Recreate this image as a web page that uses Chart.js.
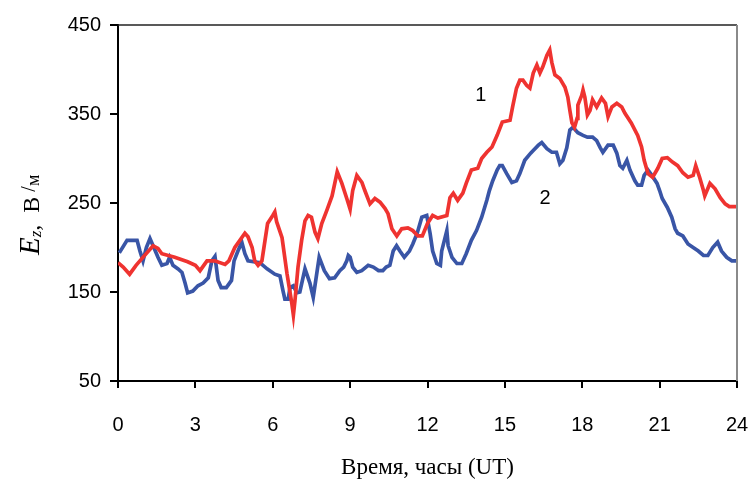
<!DOCTYPE html>
<html>
<head>
<meta charset="utf-8">
<script src="https://cdn.jsdelivr.net/npm/chart.js@4/dist/chart.umd.min.js"></script>
<style>
  html, body { margin: 0; padding: 0; background: #fff; }
  #wrap { width: 749px; height: 486px; position: relative; }
</style>
</head>
<body>
<div id="wrap"><canvas id="ez-chart"></canvas></div>
<script>
// curve 1 (red)
const hours1 = [0, 0.2, 0.45, 0.7, 1.0, 1.36, 1.55, 1.7, 2.2, 2.7, 3.0, 3.18, 3.45, 3.75, 4.15, 4.3, 4.53, 4.92, 5.04, 5.2,
  5.3, 5.43, 5.58, 5.7, 5.8, 6.0, 6.08, 6.15, 6.36, 6.55, 6.74, 6.8, 6.86, 6.98, 7.12, 7.25, 7.37, 7.5, 7.64, 7.75,
  7.9, 8.1, 8.3, 8.5, 8.68, 8.87, 9.0, 9.1, 9.26, 9.46, 9.57, 9.77, 9.96, 10.16, 10.35, 10.47, 10.62, 10.81, 11.0, 11.24, 11.43,
  11.63, 11.8, 12.0, 12.2, 12.4, 12.75, 12.87, 13.0, 13.17, 13.37, 13.5, 13.7, 13.95, 14.1, 14.3, 14.5, 14.7, 14.9, 15.2, 15.3,
  15.45, 15.58, 15.7, 15.85, 15.97, 16.1, 16.24, 16.36, 16.47, 16.63, 16.74, 16.82, 16.94, 17.13, 17.33, 17.44, 17.52, 17.6, 17.7, 17.8,
  17.83, 17.98, 18.03, 18.1, 18.2, 18.3, 18.4, 18.56, 18.75, 18.9, 19.0, 19.15, 19.34, 19.53, 19.65, 19.9, 20.15, 20.3, 20.4, 20.55,
  20.73, 20.93, 21.1, 21.3, 21.5, 21.7, 21.9, 22.1, 22.3, 22.4, 22.55, 22.7, 22.75, 22.95, 23.15, 23.35, 23.54, 23.7, 24];
const values1 = [183, 178, 170, 180, 190, 202, 199, 193, 189, 184, 180, 174, 185, 185, 181, 185, 200, 216, 212, 200,
  185, 180, 185, 208, 227, 236, 240, 229, 211, 171, 137, 124, 140, 178, 208, 230, 236, 234, 217, 210,
  227, 242, 258, 285, 272, 255, 243, 264, 281, 273, 264, 249, 255, 251, 244, 238, 221, 213, 221, 222, 219,
  213, 213, 227, 236, 233, 236, 256, 261, 253, 261, 272, 287, 289, 300, 307, 313, 326, 341, 343, 358,
  379, 388, 388, 382, 379, 396, 405, 396, 403, 416, 422, 408, 394, 390, 380, 369, 354, 340, 335, 345,
  360, 371, 377, 369, 349, 354, 366, 358, 368, 362, 347, 358, 362, 358, 351, 340, 326, 313, 298, 283,
  279, 289, 300, 301, 296, 292, 284, 279, 281, 292, 279, 264, 258, 272, 266, 256, 249, 246, 246];

// curve 2 (blue)
const hours2 = [0.05, 0.35, 0.74, 0.85, 0.97, 1.1, 1.24, 1.36, 1.55, 1.7, 1.9, 2.0, 2.13, 2.33, 2.48, 2.6, 2.7, 2.9, 3.1, 3.3,
  3.5, 3.64, 3.76, 3.88, 4.0, 4.2, 4.4, 4.5, 4.65, 4.8, 4.92, 5.04, 5.5, 5.78, 6.08, 6.28, 6.4, 6.47, 6.6,
  6.67, 6.8, 6.93, 7.05, 7.25, 7.44, 7.57, 7.8, 8.0, 8.2, 8.4, 8.6, 8.75, 8.87, 8.93, 9.0, 9.1, 9.26, 9.45, 9.7,
  9.9, 10.1, 10.27, 10.4, 10.54, 10.67, 10.8, 10.93, 11.1, 11.3, 11.43, 11.6, 11.78, 11.97, 12.1, 12.2, 12.36, 12.5, 12.55, 12.75,
  12.8, 12.95, 13.14, 13.33, 13.5, 13.7, 13.9, 14.1, 14.3, 14.4, 14.53, 14.7, 14.8, 14.9, 15.07, 15.27, 15.45, 15.58, 15.77, 16.0,
  16.1, 16.3, 16.43, 16.63, 16.82, 17.0, 17.13, 17.25, 17.4, 17.52, 17.64, 17.83, 18.03, 18.2, 18.4, 18.56, 18.7, 18.8, 19.0, 19.2,
  19.34, 19.46, 19.57, 19.73, 19.85, 20.04, 20.15, 20.3, 20.4, 20.55, 20.7, 20.9, 21.0, 21.1, 21.3, 21.47, 21.6, 21.7, 21.9, 22.1,
  22.3, 22.5, 22.7, 22.87, 23.06, 23.25, 23.4, 23.6, 23.8, 24];
const values2 = [194, 208, 208, 196, 185, 200, 210, 202, 189, 180, 182, 189, 180, 176, 172, 160, 149, 151, 157, 160,
  166, 185, 190, 163, 155, 155, 163, 185, 196, 206, 193, 185, 183, 176, 170, 168, 151, 142, 142,
  155, 157, 149, 150, 176, 160, 144, 189, 174, 165, 166, 174, 178, 185, 191, 189, 178, 172, 174, 180,
  178, 174, 174, 178, 180, 196, 202, 196, 189, 196, 204, 216, 234, 236, 216, 196, 182, 180, 196, 219,
  202, 189, 182, 182, 193, 208, 219, 234, 253, 264, 275, 287, 292, 292, 283, 273, 275, 283, 298, 306,
  309, 315, 318, 311, 307, 307, 294, 298, 312, 332, 335, 329, 326, 324, 324, 320, 312, 307, 315, 315,
  306, 292, 289, 298, 287, 275, 270, 270, 281, 287, 281, 272, 264, 255, 245, 234, 221, 216, 213, 204,
  200, 196, 191, 191, 200, 206, 196, 189, 185, 185];

const xTicks = [0, 3, 6, 9, 12, 15, 18, 21, 24];
const yTicks = [50, 150, 250, 350, 450];

// curve numbers placed next to the lines
const curveLabels = ['1', '2'];
const curveLabelHours = [14.07, 16.56];
const curveLabelValues = [371, 255];

const toPoints = (xs, ys) => xs.map((x, i) => ({ x: x, y: ys[i] }));

// top/right frame, curve numbers and the mixed-font axis titles
const decorPlugin = {
    id: 'decor',
    afterDraw(chart) {
        const ctx = chart.ctx;
        const area = chart.chartArea;
        const xs = chart.scales.x;
        const ys = chart.scales.y;
        ctx.save();

        ctx.strokeStyle = '#222';
        ctx.lineWidth = 1.5;
        ctx.beginPath();
        ctx.moveTo(area.left, area.top);
        ctx.lineTo(area.right, area.top);
        ctx.stroke();
        ctx.strokeStyle = '#8a8a8a';
        ctx.lineWidth = 2;
        ctx.beginPath();
        ctx.moveTo(area.right, area.top);
        ctx.lineTo(area.right, area.bottom);
        ctx.stroke();

        ctx.fillStyle = '#000';
        ctx.font = '20px "Liberation Sans", Arial, sans-serif';
        ctx.textAlign = 'center';
        ctx.textBaseline = 'middle';
        curveLabels.forEach((t, i) => {
            ctx.fillText(t, xs.getPixelForValue(curveLabelHours[i]), ys.getPixelForValue(curveLabelValues[i]));
        });

        // x title
        ctx.font = '23px "Liberation Serif", "Times New Roman", serif';
        ctx.textBaseline = 'alphabetic';
        ctx.fillText('Время, часы (UT)', (area.left + area.right) / 2, 474);

        // y title, drawn piece by piece along a rotated baseline
        ctx.translate(39, 255);
        ctx.rotate(-Math.PI / 2);
        ctx.textAlign = 'left';
        const parts = [
            { t: 'E', f: 'italic 29px "Liberation Serif", serif', dy: 0 },
            { t: 'z', f: 'italic 17px "Liberation Serif", serif', dy: 2 },
            { t: ',  ', f: '24px "Liberation Serif", serif', dy: 0 },
            { t: 'В', f: '24px "Liberation Serif", serif', dy: 0 },
            { t: ' /', f: '20px "Liberation Serif", serif', dy: -4 },
            { t: 'м', f: '18px "Liberation Serif", serif', dy: 0 }
        ];
        let pos = 0;
        parts.forEach(p => {
            ctx.font = p.f;
            ctx.fillText(p.t, pos, p.dy);
            pos += ctx.measureText(p.t).width;
        });
        ctx.restore();
    }
};

const ctx = document.getElementById('ez-chart').getContext('2d');
new Chart(ctx, {
    type: 'line',
    data: {
        datasets: [
            {
                label: '1',
                data: toPoints(hours1, values1),
                borderColor: '#ef3330',
                borderWidth: 3.7,
                pointRadius: 0,
                tension: 0,
                fill: false
            },
            {
                label: '2',
                data: toPoints(hours2, values2),
                borderColor: '#3955a6',
                borderWidth: 3.7,
                pointRadius: 0,
                tension: 0,
                fill: false
            }
        ]
    },
    options: {
        responsive: true,
        maintainAspectRatio: false,
        animation: false,
        layout: { padding: { left: 0, right: 12, top: 25, bottom: 0 } },
        plugins: {
            legend: { display: false },
            tooltip: { enabled: false }
        },
        scales: {
            x: {
                type: 'linear',
                min: 0,
                max: 24,
                afterBuildTicks: s => { s.ticks = xTicks.map(v => ({ value: v })); },
                afterFit: s => { s.height = 105; s.paddingRight = 0; },
                border: { display: true, color: '#000', width: 2 },
                grid: { drawOnChartArea: false, drawTicks: true, tickLength: 7, color: '#000', lineWidth: 2 },
                ticks: {
                    color: '#000',
                    padding: 25,
                    maxRotation: 0,
                    font: { family: '"Liberation Sans", Arial, sans-serif', size: 20 }
                }
            },
            y: {
                type: 'linear',
                min: 50,
                max: 450,
                afterBuildTicks: s => { s.ticks = yTicks.map(v => ({ value: v })); },
                afterFit: s => { s.width = 118; },
                border: { display: true, color: '#000', width: 2 },
                grid: { drawOnChartArea: false, drawTicks: true, tickLength: 8, color: '#000', lineWidth: 2 },
                ticks: {
                    color: '#000',
                    padding: 9,
                    font: { family: '"Liberation Sans", Arial, sans-serif', size: 20 }
                }
            }
        }
    },
    plugins: [decorPlugin]
});
</script>
</body>
</html>
